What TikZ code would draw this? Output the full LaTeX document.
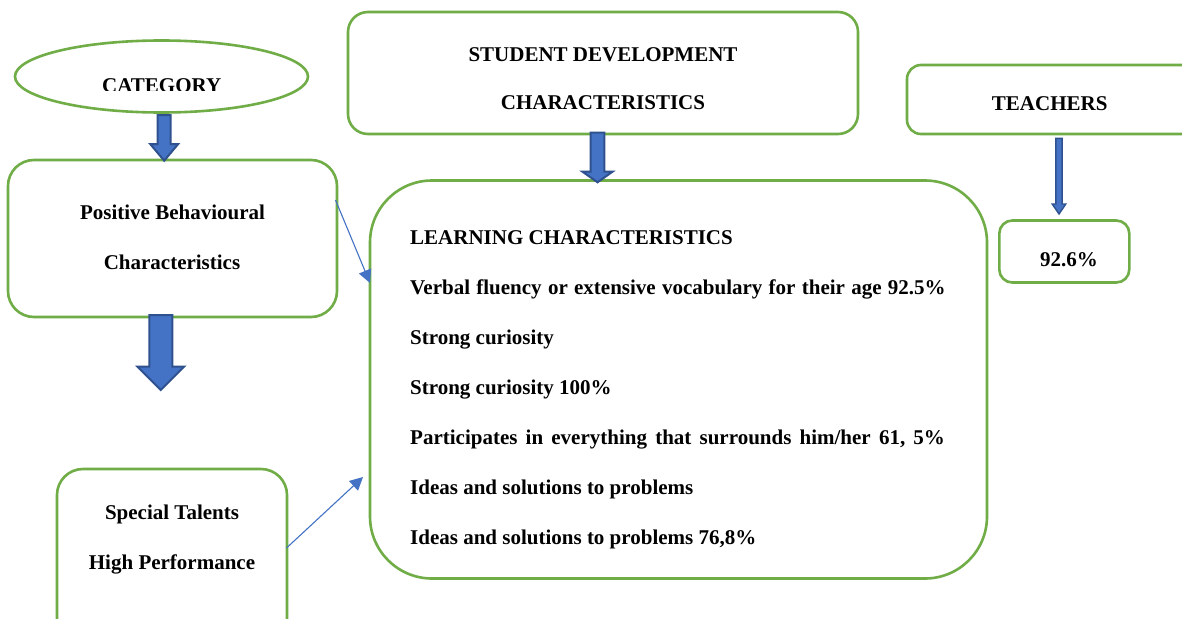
\documentclass[tikz,border=0pt]{standalone}
\usepackage{fontspec}
\setmainfont{Liberation Serif}
\usetikzlibrary{arrows.meta,shapes.geometric}
\definecolor{grn}{HTML}{70AD47}
\definecolor{blu}{HTML}{4472C4}
\definecolor{dblu}{HTML}{2F528F}
\newcommand{\blkarrow}[6]{% x, ytop, ytip, shaft half, head half, head start y
  \draw[blockarr] (#1-#4,#2) -- (#1+#4,#2) -- (#1+#4,#6) -- (#1+#5,#6) -- (#1,#3) -- (#1-#5,#6) -- (#1-#4,#6) -- cycle;}
\begin{document}
\begin{tikzpicture}[x=1pt,y=-1pt,
  box/.style={draw=grn, line width=2.6pt, fill=white, rectangle, inner sep=0pt},
  txt/.style={font=\fontsize{21}{25}\selectfont\bfseries, inner sep=0pt, anchor=base},
  ltxt/.style={font=\fontsize{21}{25}\selectfont\bfseries, inner sep=0pt, anchor=base west},
  blockarr/.style={draw=dblu, line width=2pt, fill=blu, line join=miter},
  thin/.style={draw=blu, line width=1.1pt, -{Triangle[length=13pt,width=13pt]}}]
\useasboundingbox (0,0) rectangle (1182,618);
\clip (0,0) rectangle (1182,618);
\fill[white] (0,0) rectangle (1182,618);

% boxes
\node[box, ellipse, minimum width=293pt, minimum height=72pt] (cat) at (161.5,76.5) {};
\node[box, rounded corners=26pt, minimum width=329pt, minimum height=157pt] (pos) at (172.5,238.5) {};
\node[box, rounded corners=20pt, minimum width=510pt, minimum height=122pt] (stu) at (603,73) {};
\node[box, rounded corners=62pt, minimum width=617pt, minimum height=398pt] (lrn) at (678.5,379.5) {};
\node[box, rounded corners=14pt, minimum width=320pt, minimum height=69pt] (tea) at (1067,99.5) {};
\node[box, rounded corners=13pt, minimum width=130pt, minimum height=62pt] (pct) at (1064.3,251.5) {};
\node[box, rounded corners=26pt, minimum width=230pt, minimum height=200pt] (spe) at (172,569) {};

% texts
\begin{scope}
  \clip (90,60) rectangle (240,90.5);
  \node[txt] (catt) at (161.7,92) {CATEGORY};
\end{scope}
\node[txt] (pos1) at (172.5,219.5) {Positive Behavioural};
\node[txt] (pos2) at (172,269.5) {Characteristics};
\node[txt] (stu1) at (603,61) {STUDENT DEVELOPMENT};
\node[txt] (stu2) at (603,109.5) {CHARACTERISTICS};
\node[txt] (teat) at (1049.7,110) {TEACHERS};
\node[txt] (pctt) at (1069,266) {92.6\%};
\node[txt] (spe1) at (172,519.5) {Special Talents};
\node[txt] (spe2) at (172,569) {High Performance};

\node[ltxt] (l1) at (410,244.5) {LEARNING CHARACTERISTICS};
\node[ltxt] (l2) at (410,294.5) {\spaceskip=6.3pt plus 1pt Verbal fluency or extensive vocabulary for their age 92.5\%};
\node[ltxt] (l3) at (410,344.5) {Strong curiosity};
\node[ltxt] (l4) at (410,394.5) {Strong curiosity 100\%};
\node[ltxt] (l5) at (410,444.5) {\spaceskip=8.2pt plus 1pt Participates in everything that surrounds him/her 61, 5\%};
\node[ltxt] (l6) at (410,494.5) {Ideas and solutions to problems};
\node[ltxt] (l7) at (410,544.5) {Ideas and solutions to problems 76,8\%};

% block arrows
\blkarrow{164.2}{115}{160.7}{6.5}{14}{144}
\blkarrow{160.8}{315}{390}{11.5}{23.3}{366.7}
\blkarrow{597.5}{132.7}{182.3}{6.8}{15}{171.7}
\draw[draw=dblu, line width=1.4pt, fill=blu] (1055.9,138.3) -- (1062.1,138.3) -- (1062.1,204) -- (1065.8,204) -- (1059,214) -- (1052.2,204) -- (1055.9,204) -- cycle;

% thin connectors
\coordinate (a1) at (335.5,200);
\coordinate (a1t) at (370,283);
\draw[thin] (a1) -- (a1t);
\coordinate (a2) at (286.5,548);
\coordinate (a2t) at (363,477);
\draw[thin] (a2) -- (a2t);
\end{tikzpicture}
\end{document}
